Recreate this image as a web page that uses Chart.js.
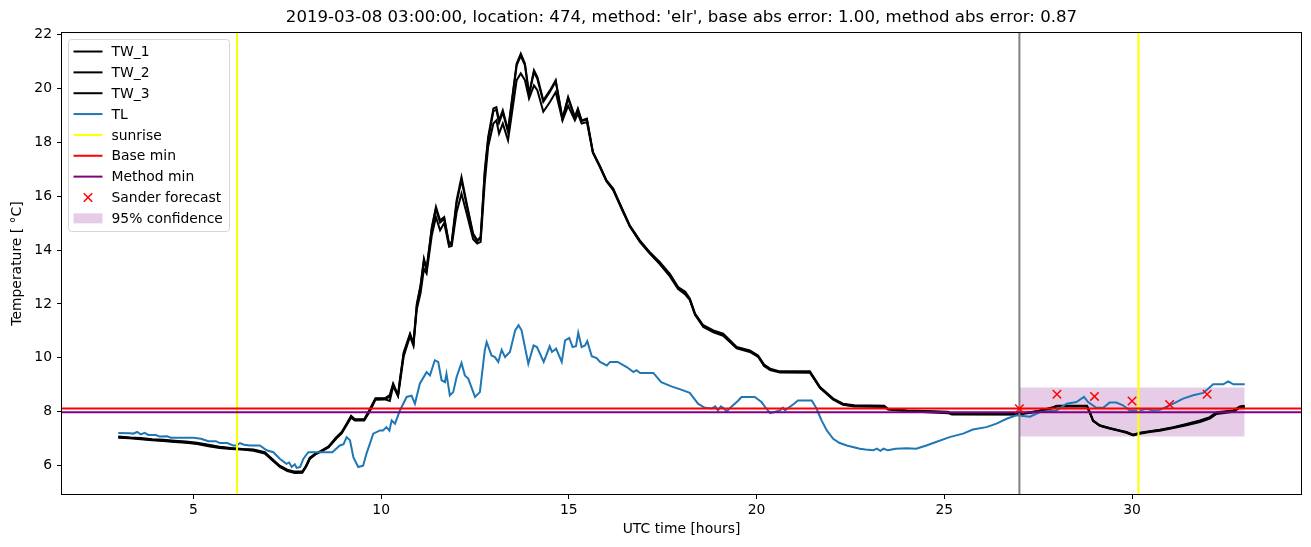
<!DOCTYPE html>
<html>
<head>
<meta charset="utf-8">
<script src="https://cdn.jsdelivr.net/npm/chart.js@4"></script>
<style>
  body { margin: 0; background: white; }
  #wrap { width: 1311px; height: 547px; }
</style>
</head>
<body>
<div id="wrap"><canvas id="myChart" width="1311" height="547"></canvas></div>
<script>
// hours for the TW curves
const twHours = [3.0, 3.3, 3.6, 3.9, 4.2, 4.5, 4.8, 5.1, 5.4, 5.7, 6.0, 6.3, 6.6, 6.9, 7.1, 7.3, 7.5, 7.7, 7.9, 8.0,
    8.1, 8.25, 8.4, 8.6, 8.8, 8.95, 9.1, 9.2, 9.3, 9.55, 9.7, 9.85, 10.1, 10.23, 10.32, 10.45, 10.5, 10.6, 10.77, 10.86,
    10.95, 11.05, 11.14, 11.21, 11.35, 11.46, 11.57, 11.68, 11.81, 11.88, 12.01, 12.14, 12.28, 12.45, 12.56, 12.65, 12.76, 12.85, 12.99, 13.07,
    13.14, 13.24, 13.38, 13.47, 13.61, 13.72, 13.83, 13.94, 14.07, 14.16, 14.32, 14.5, 14.65, 14.83, 14.98, 15.16, 15.24, 15.34, 15.48, 15.64,
    15.82, 16.0, 16.18, 16.44, 16.62, 16.89, 17.15, 17.42, 17.69, 17.91, 18.1, 18.22, 18.36, 18.58, 18.85, 19.11, 19.47, 19.82, 20.04, 20.2,
    20.36, 20.62, 21.42, 21.69, 22.04, 22.3, 22.6, 23.4, 23.5, 24.0, 25.1, 25.2, 26.95, 27.5, 27.9, 28.0, 28.8, 28.9, 28.96, 29.14,
    29.4, 29.67, 29.85, 30.03, 30.2, 30.47, 30.74, 31.1, 31.45, 31.81, 32.07, 32.25, 32.7, 32.87, 33.0];
const tw1 = [7.08, 7.05, 7.03, 6.98, 6.96, 6.93, 6.90, 6.85, 6.78, 6.70, 6.66, 6.62, 6.60, 6.50, 6.25, 6.00, 5.85, 5.78, 5.78, 6.00,
    6.30, 6.45, 6.55, 6.72, 7.05, 7.25, 7.60, 7.85, 7.72, 7.72, 8.10, 8.50, 8.50, 8.62, 9.05, 8.62, 9.20, 10.20, 10.90, 10.55,
    12.00, 12.70, 13.68, 13.31, 14.85, 15.60, 15.10, 15.22, 14.24, 14.30, 15.84, 16.71, 15.72, 14.61, 14.36, 14.48, 16.96, 18.19, 19.25, 19.30,
    18.81, 19.18, 18.44, 19.43, 20.92, 21.29, 20.92, 19.80, 20.67, 20.42, 19.55, 19.93, 20.30, 18.88, 19.68, 18.94, 19.25, 18.81, 18.88, 17.64,
    17.14, 16.59, 16.28, 15.47, 14.92, 14.36, 13.93, 13.56, 13.12, 12.63, 12.45, 12.20, 11.64, 11.21, 11.02, 10.90, 10.40, 10.28, 10.09, 9.75,
    9.60, 9.50, 9.50, 8.92, 8.49, 8.30, 8.24, 8.22, 8.11, 8.05, 8.00, 7.93, 7.92, 8.03, 8.17, 8.22, 8.22, 7.90, 7.68, 7.50,
    7.40, 7.31, 7.25, 7.15, 7.22, 7.28, 7.33, 7.43, 7.55, 7.68, 7.80, 7.98, 8.05, 8.20, 8.22];
const tw2 = [7.04, 7.02, 6.98, 6.94, 6.92, 6.88, 6.85, 6.80, 6.72, 6.66, 6.62, 6.60, 6.55, 6.45, 6.20, 5.95, 5.80, 5.73, 5.74, 5.95,
    6.25, 6.42, 6.52, 6.68, 7.00, 7.20, 7.55, 7.78, 7.68, 7.68, 8.02, 8.45, 8.46, 8.40, 8.95, 8.58, 9.05, 10.05, 10.80, 10.45,
    11.80, 12.40, 13.30, 13.13, 14.55, 15.22, 14.73, 15.00, 14.12, 14.15, 15.40, 16.09, 15.35, 14.40, 14.24, 14.30, 16.50, 17.83, 18.69, 18.81,
    18.32, 18.69, 18.07, 18.94, 20.30, 20.55, 20.30, 19.62, 20.11, 19.93, 19.13, 19.50, 19.86, 18.81, 19.35, 18.81, 19.06, 18.69, 18.75, 17.60,
    17.10, 16.55, 16.22, 15.42, 14.88, 14.30, 13.88, 13.48, 13.02, 12.55, 12.35, 12.15, 11.60, 11.15, 10.95, 10.82, 10.35, 10.22, 10.04, 9.70,
    9.55, 9.46, 9.45, 8.88, 8.45, 8.26, 8.20, 8.18, 8.08, 8.02, 7.95, 7.90, 7.90, 8.00, 8.14, 8.20, 8.20, 7.88, 7.66, 7.48,
    7.38, 7.29, 7.22, 7.12, 7.18, 7.25, 7.30, 7.40, 7.50, 7.62, 7.75, 7.92, 8.00, 8.15, 8.18];
const tw3 = [7.06, 7.04, 7.00, 6.96, 6.93, 6.90, 6.87, 6.82, 6.76, 6.68, 6.64, 6.61, 6.58, 6.48, 6.22, 5.98, 5.83, 5.76, 5.76, 5.98,
    6.28, 6.44, 6.54, 6.70, 7.03, 7.23, 7.58, 7.82, 7.70, 7.70, 8.06, 8.48, 8.48, 8.55, 9.00, 8.60, 9.15, 10.15, 10.85, 10.50,
    11.95, 12.65, 13.62, 13.25, 14.80, 15.52, 15.02, 15.15, 14.20, 14.25, 15.75, 16.60, 15.65, 14.55, 14.32, 14.45, 16.85, 18.10, 19.15, 19.20,
    18.72, 19.10, 18.38, 19.35, 20.85, 21.20, 20.85, 19.75, 20.60, 20.35, 19.50, 19.88, 20.25, 18.85, 19.62, 18.90, 19.20, 18.78, 18.85, 17.62,
    17.12, 16.57, 16.25, 15.45, 14.90, 14.33, 13.90, 13.52, 13.08, 12.60, 12.40, 12.18, 11.62, 11.18, 10.98, 10.86, 10.38, 10.25, 10.06, 9.72,
    9.58, 9.48, 9.48, 8.90, 8.47, 8.28, 8.22, 8.20, 8.10, 8.04, 7.98, 7.92, 7.91, 8.02, 8.16, 8.21, 8.21, 7.89, 7.67, 7.49,
    7.39, 7.30, 7.24, 7.14, 7.20, 7.27, 7.32, 7.42, 7.53, 7.66, 7.78, 7.95, 8.03, 8.18, 8.20];

// hours and values for TL
const tlHours = [3.0, 3.3, 3.4, 3.5, 3.6, 3.7, 3.8, 4.0, 4.1, 4.3, 4.4, 5.0, 5.2, 5.4, 5.6, 5.7, 5.9, 6.06, 6.15, 6.24,
    6.35, 6.5, 6.77, 6.95, 7.13, 7.3, 7.48, 7.55, 7.62, 7.7, 7.75, 7.84, 7.93, 8.06, 8.7, 8.9, 9.0, 9.08, 9.17, 9.26,
    9.39, 9.52, 9.61, 9.79, 9.97, 10.05, 10.14, 10.22, 10.28, 10.37, 10.5, 10.68, 10.81, 10.9, 11.03, 11.21, 11.3, 11.43, 11.52, 11.61,
    11.7, 11.74, 11.83, 11.92, 12.01, 12.14, 12.23, 12.32, 12.5, 12.63, 12.76, 12.81, 12.94, 13.03, 13.12, 13.21, 13.3, 13.43, 13.57, 13.66,
    13.74, 13.92, 14.06, 14.15, 14.33, 14.49, 14.55, 14.66, 14.81, 14.9, 15.01, 15.1, 15.19, 15.25, 15.34, 15.43, 15.49, 15.61, 15.74, 15.83,
    16.01, 16.1, 16.3, 16.54, 16.72, 16.8, 16.9, 17.25, 17.46, 17.73, 17.99, 18.22, 18.44, 18.62, 18.8, 18.9, 18.97, 19.05, 19.15, 19.2,
    19.3, 19.5, 19.6, 19.95, 20.13, 20.23, 20.36, 20.5, 20.62, 20.7, 20.76, 20.85, 21.0, 21.1, 21.47, 21.6, 21.73, 21.87, 22.04, 22.2,
    22.4, 22.75, 22.9, 23.11, 23.2, 23.3, 23.38, 23.5, 23.7, 24.0, 24.25, 24.52, 24.78, 25.14, 25.5, 25.76, 26.12, 26.39, 26.66, 26.92,
    27.28, 27.55, 27.99, 28.26, 28.52, 28.72, 28.83, 29.05, 29.23, 29.4, 29.58, 29.76, 29.94, 30.2, 30.38, 30.56, 30.74, 31.1, 31.36, 31.63,
    31.9, 32.16, 32.43, 32.56, 32.7, 33.0];
const tl = [7.21, 7.20, 7.19, 7.25, 7.16, 7.22, 7.14, 7.14, 7.08, 7.09, 7.04, 7.04, 7.00, 6.91, 6.91, 6.84, 6.84, 6.75, 6.75, 6.84,
    6.78, 6.75, 6.75, 6.57, 6.50, 6.26, 6.07, 6.12, 5.95, 6.05, 5.92, 5.95, 6.26, 6.50, 6.50, 6.75, 6.80, 7.06, 6.94, 6.32,
    5.95, 6.00, 6.45, 7.19, 7.31, 7.31, 7.43, 7.30, 7.68, 7.56, 8.05, 8.55, 8.60, 8.30, 9.04, 9.47, 9.35, 9.91, 9.85, 9.17,
    9.10, 9.41, 8.61, 8.73, 9.29, 9.81, 9.35, 9.23, 8.55, 8.73, 10.28, 10.59, 10.09, 10.03, 9.85, 10.30, 10.03, 10.22, 11.02, 11.21,
    11.02, 9.78, 10.46, 10.40, 9.85, 10.43, 10.22, 10.34, 9.85, 10.65, 10.74, 10.40, 10.43, 10.93, 10.40, 10.46, 10.62, 10.06, 9.99, 9.85,
    9.72, 9.85, 9.85, 9.66, 9.47, 9.54, 9.44, 9.44, 9.10, 8.94, 8.82, 8.70, 8.30, 8.15, 8.12, 8.20, 8.05, 8.20, 8.10, 8.00,
    8.15, 8.40, 8.55, 8.55, 8.36, 8.17, 7.95, 8.00, 8.05, 8.15, 8.05, 8.15, 8.30, 8.42, 8.42, 8.11, 7.68, 7.31, 7.00, 6.85,
    6.75, 6.63, 6.60, 6.57, 6.63, 6.55, 6.63, 6.57, 6.63, 6.65, 6.63, 6.75, 6.88, 7.06, 7.19, 7.34, 7.43, 7.56, 7.74, 7.87,
    7.82, 7.99, 8.05, 8.30, 8.36, 8.55, 8.36, 8.15, 8.15, 8.34, 8.34, 8.24, 8.05, 8.05, 8.11, 8.05, 8.07, 8.30, 8.49, 8.61,
    8.70, 9.02, 9.02, 9.13, 9.02, 9.02];

const sunrise = [6.16, 30.17];
const baseMin = 8.12;
const methodMin = 7.98;
const forecastStart = 27.0;
const sanderHours = [27, 28, 29, 30, 31, 32];
const sanderValues = [8.11, 8.65, 8.57, 8.40, 8.27, 8.65];
const confHours = [27, 33];
const confLow = 7.08;
const confHigh = 8.90;

const xRange = [1.5, 34.5];
const yRange = [4.95, 22.05];
const xTicks = [5, 10, 15, 20, 25, 30];
const yTicks = [6, 8, 10, 12, 14, 16, 18, 20, 22];

const titleText = "2019-03-08 03:00:00, location: 474, method: 'elr', base abs error: 1.00, method abs error: 0.87";

function zip(xs, ys) {
    return xs.map((x, i) => ({x: x, y: ys[i]}));
}
function vline(x) {
    return [{x: x, y: yRange[0]}, {x: x, y: yRange[1]}];
}
function hline(y) {
    return [{x: xRange[0], y: y}, {x: xRange[1], y: y}];
}

Chart.defaults.font.family = "'DejaVu Sans', sans-serif";
Chart.defaults.color = "black";

let datasets = [
    {label: "95% confidence", data: zip(confHours, [confHigh, confHigh]), borderWidth: 0,
        backgroundColor: "rgba(128,0,128,0.2)", fill: {value: confLow}, legendKind: "patch"},
    {label: "TW_1", data: zip(twHours, tw1), borderColor: "black", borderWidth: 2, legendKind: "line"},
    {label: "TW_2", data: zip(twHours, tw2), borderColor: "black", borderWidth: 2, legendKind: "line"},
    {label: "TW_3", data: zip(twHours, tw3), borderColor: "black", borderWidth: 2, legendKind: "line"},
    {label: "TL", data: zip(tlHours, tl), borderColor: "#1f77b4", borderWidth: 2, legendKind: "line"},
    {label: "", data: vline(forecastStart), borderColor: "gray", borderWidth: 2},
    {label: "sunrise", data: vline(sunrise[0]), borderColor: "#ffff00", borderWidth: 2, legendKind: "line"},
    {label: "", data: vline(sunrise[1]), borderColor: "#ffff00", borderWidth: 2},
    {label: "Base min", data: hline(baseMin), borderColor: "red", borderWidth: 2, legendKind: "line"},
    {label: "Method min", data: hline(methodMin), borderColor: "purple", borderWidth: 2, legendKind: "line"},
    {label: "Sander forecast", data: zip(sanderHours, sanderValues), showLine: false, pointStyle: "crossRot",
        pointRadius: 6, pointBorderWidth: 1.5, pointBorderColor: "red", borderColor: "red", legendKind: "marker"},
];
// later datasets on top, like matplotlib
datasets.forEach((d, i) => {
    d.order = -i;
    d.tension = 0;
    if (d.pointRadius === undefined) d.pointRadius = 0;
});

// legend order as in the reference
const legendOrder = ["TW_1", "TW_2", "TW_3", "TL", "sunrise", "Base min", "Method min", "Sander forecast", "95% confidence"];

const framePlugin = {
    id: "frameAndLegend",
    afterDraw(chart) {
        const ctx = chart.ctx;
        const a = chart.chartArea;
        ctx.save();
        ctx.strokeStyle = "black";
        ctx.lineWidth = 1;
        ctx.strokeRect(a.left - 0.5, a.top - 0.5, a.right - a.left + 1, a.bottom - a.top + 1);

        // legend box
        const x0 = a.left + 6.5, y0 = a.top + 6.5, w = 161, h = 192, rowH = 20.85;
        ctx.beginPath();
        ctx.roundRect(x0, y0, w, h, 3);
        ctx.fillStyle = "rgba(255,255,255,0.8)";
        ctx.fill();
        ctx.strokeStyle = "rgba(204,204,204,0.8)";
        ctx.stroke();

        ctx.font = "13.9px 'DejaVu Sans'";
        ctx.textBaseline = "middle";
        ctx.textAlign = "left";
        legendOrder.forEach((name, i) => {
            const d = chart.data.datasets.find(ds => ds.label === name);
            const cy = y0 + 12 + i * rowH;
            if (d.legendKind === "line") {
                ctx.beginPath();
                ctx.moveTo(x0 + 5, cy);
                ctx.lineTo(x0 + 34, cy);
                ctx.strokeStyle = d.borderColor;
                ctx.lineWidth = 2;
                ctx.stroke();
            } else if (d.legendKind === "marker") {
                const cx = x0 + 19.5, r = 4.2;
                ctx.beginPath();
                ctx.moveTo(cx - r, cy - r); ctx.lineTo(cx + r, cy + r);
                ctx.moveTo(cx - r, cy + r); ctx.lineTo(cx + r, cy - r);
                ctx.strokeStyle = "red";
                ctx.lineWidth = 1.5;
                ctx.stroke();
            } else {
                ctx.fillStyle = d.backgroundColor;
                ctx.fillRect(x0 + 5, cy - 5, 29, 10);
            }
            ctx.fillStyle = "black";
            ctx.fillText(name, x0 + 43, cy + 1);
        });
        ctx.restore();
    }
};

const ctx = document.getElementById("myChart").getContext("2d");
const myChart = new Chart(ctx, {
    type: "line",
    data: {datasets: datasets},
    plugins: [framePlugin],
    options: {
        responsive: false,
        animation: false,
        devicePixelRatio: 1,
        layout: {padding: {top: 0, right: 10, bottom: 0, left: 0}},
        plugins: {
            legend: {display: false},
            tooltip: {enabled: false},
            title: {
                display: true,
                text: titleText,
                fullSize: false,
                color: "black",
                font: {size: 16.6, weight: "normal", lineHeight: 1.2},
                padding: {top: 7.5, bottom: 5.6}
            }
        },
        scales: {
            x: {
                type: "linear",
                min: xRange[0],
                max: xRange[1],
                afterFit: s => { s.height = 53; },
                afterBuildTicks: s => { s.ticks = xTicks.map(v => ({value: v})); },
                grid: {drawOnChartArea: false, color: "black", tickLength: 5, tickWidth: 1},
                border: {display: false},
                ticks: {font: {size: 13.9}, padding: 3.5, maxRotation: 0, callback: v => String(v)},
                title: {display: true, text: "UTC time [hours]", font: {size: 13.9}, padding: {bottom: 9}}
            },
            y: {
                type: "linear",
                min: yRange[0],
                max: yRange[1],
                afterFit: s => { s.width = 62; },
                afterBuildTicks: s => { s.ticks = yTicks.map(v => ({value: v})); },
                grid: {drawOnChartArea: false, color: "black", tickLength: 5, tickWidth: 1},
                border: {display: false},
                ticks: {font: {size: 13.9}, padding: 5, callback: v => String(v)},
                title: {display: true, text: "Temperature [ °C]", font: {size: 13.9}, padding: {top: 9}}
            }
        }
    }
});
</script>
</body>
</html>
